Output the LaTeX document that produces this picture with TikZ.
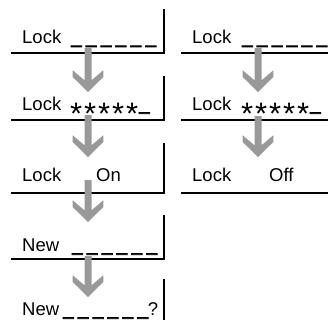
\documentclass[tikz,border=0pt]{standalone}
\usepackage{fontspec}
\setmainfont{Liberation Sans}
\newfontfamily\dashfont[FakeBold=4]{Liberation Sans}
\usetikzlibrary{calc}
\definecolor{arrowgray}{RGB}{153,153,153}
\tikzset{
  lbl/.style={anchor=base west, inner sep=0pt, font=\fontsize{18.5}{18.5}\selectfont},
  rowline/.style={line width=2pt, black},
}
\newcommand{\dsh}{\makebox[14.9pt][l]{\dashfont\_}}
\newcommand{\astk}{\makebox[14pt][c]{\raisebox{-14.3pt}{\fontsize{31}{31}\selectfont *}}}
\newcommand{\bigarrow}[2]{%
  \fill[arrowgray] let \p1=(#1), \p2=(#2) in
  (\x1-3.5pt,\y1) -- (\x1+3.5pt,\y1) -- (\x1+3.5pt,\y2+11.7pt) --
  (\x1+15.3pt,\y2+21.7pt) -- (\x1+15.3pt,\y2+15pt) -- (\x1,\y2) --
  (\x1-15.3pt,\y2+15pt) -- (\x1-15.3pt,\y2+21.7pt) --
  (\x1-3.5pt,\y2+11.7pt) -- cycle;}
\begin{document}
\begin{tikzpicture}[x=1pt,y=-1pt]
\useasboundingbox (0,0) rectangle (328,322);
% left column frames
\draw[rowline] (11,53) -- (164,53) -- (164,9);
\draw[rowline] (11,119.5) -- (164,119.5) -- (164,76);
\draw[rowline] (11,193) -- (164,193) -- (164,143);
\draw[rowline] (11,259) -- (164,259) -- (164,215);
\draw[rowline] (164,279) -- (164,320);
% right column lines
\draw[rowline] (181,53) -- (328,53);
\draw[rowline] (181,119.5) -- (328,119.5);
\draw[rowline] (181,193) -- (328,193);
% left texts
\node[lbl] (l1) at (22,43.3) {Lock};
\node[lbl] (v1) at (71,43.3) {\dsh\dsh\dsh\dsh\dsh\dsh};
\node[lbl] (l2) at (22,110) {Lock};
\node[lbl] (v2) at (69,110) {\astk\astk\astk\astk\astk\dsh};
\node[lbl] (l3) at (22,181) {Lock};
\node[lbl] (v3) at (96,181) {On};
\node[lbl] (l4) at (22,251) {New};
\node[lbl] (v4) at (72,251) {\dsh\dsh\dsh\dsh\dsh\dsh};
\node[lbl] (l5) at (22,315) {New};
\node[lbl] (v5) at (63,315) {\dsh\dsh\dsh\dsh\dsh{\dashfont\_}?};
% right texts
\node[lbl] (r1) at (192,43.3) {Lock};
\node[lbl] (w1) at (242,43.3) {\dsh\dsh\dsh\dsh\dsh\dsh};
\node[lbl] (r2) at (192,110) {Lock};
\node[lbl] (w2) at (240,110) {\astk\astk\astk\astk\astk\dsh};
\node[lbl] (r3) at (192,181) {Lock};
\node[lbl] (w3) at (269,181) {Off};
% arrow end points
\coordinate (a1s) at (88,48);  \coordinate (a1e) at (88,92);
\coordinate (a2s) at (88,115); \coordinate (a2e) at (88,157);
\coordinate (a3s) at (88,180); \coordinate (a3e) at (88,222);
\coordinate (a4s) at (88,256); \coordinate (a4e) at (88,297);
\coordinate (b1s) at (258,48);  \coordinate (b1e) at (258,92);
\coordinate (b2s) at (258,116); \coordinate (b2e) at (258,157);
\bigarrow{a1s}{a1e}
\bigarrow{a2s}{a2e}
\bigarrow{a3s}{a3e}
\bigarrow{a4s}{a4e}
\bigarrow{b1s}{b1e}
\bigarrow{b2s}{b2e}
\end{tikzpicture}
\end{document}
